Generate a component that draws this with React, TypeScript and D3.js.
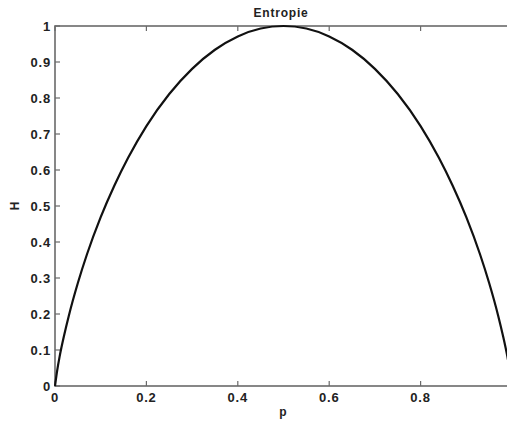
import React from "react";
import * as d3 from "d3";

// Probability values p and the entropy H(p)
const pValues = [0, 0.005, 0.01, 0.02, 0.03, 0.05, 0.07, 0.1, 0.13, 0.16, 0.2, 0.25, 0.3, 0.35, 0.4, 0.45, 0.5, 0.55, 0.6, 0.65, 0.7, 0.75, 0.8, 0.84, 0.87, 0.9, 0.93, 0.95, 0.97, 0.98, 0.99, 0.995];
const hValues = [0.0, 0.045, 0.081, 0.141, 0.194, 0.286, 0.366, 0.469, 0.557, 0.634, 0.722, 0.811, 0.881, 0.934, 0.971, 0.993, 1.0, 0.993, 0.971, 0.934, 0.881, 0.811, 0.722, 0.634, 0.557, 0.469, 0.366, 0.286, 0.194, 0.141, 0.081, 0.045];

const xTicks = [0, 0.2, 0.4, 0.6, 0.8];
const yTicks = [0, 0.1, 0.2, 0.3, 0.4, 0.5, 0.6, 0.7, 0.8, 0.9, 1];

const W = 507;
const H = 422;
const left = 55;
const right = 512;
const top = 26;
const bottom = 386;

export default function App() {
  const x = d3.scaleLinear().domain([0, 1]).range([left, right]);
  const y = d3.scaleLinear().domain([0, 1]).range([bottom, top]);
  const pts: [number, number][] = pValues.map((p, i) => [p, hValues[i]]);
  const line = d3
    .line<[number, number]>()
    .x((d) => x(d[0]))
    .y((d) => y(d[1]))
    .curve(d3.curveMonotoneX);

  const font = "'Liberation Sans', Arial, Helvetica, sans-serif";
  const axisColor = "#6a6a6a";
  const tickLen = 5;

  return (
    <svg
      width={W}
      height={H}
      style={{ position: "fixed", left: 0, top: 0, background: "#fff", display: "block" }}
    >
      <rect x={0} y={0} width={W} height={H} fill="#fff" />
      {/* axes box */}
      <rect
        x={left}
        y={top}
        width={right - left}
        height={bottom - top}
        fill="none"
        stroke={axisColor}
        strokeWidth={1.6}
      />
      {/* x ticks, bottom and top, pointing inward */}
      {xTicks.map((t) => (
        <g key={"x" + t}>
          <line x1={x(t)} x2={x(t)} y1={bottom} y2={bottom - tickLen} stroke={axisColor} strokeWidth={1.2} />
          <line x1={x(t)} x2={x(t)} y1={top} y2={top + tickLen} stroke={axisColor} strokeWidth={1.2} />
          <text
            x={x(t)}
            y={402}
            textAnchor="middle"
            fontFamily={font}
            fontWeight="bold"
            fontSize={13}
            letterSpacing={0.8}
            fill="#222"
          >
            {String(t)}
          </text>
        </g>
      ))}
      {/* y ticks, left and right */}
      {yTicks.map((t) => (
        <g key={"y" + t}>
          <line x1={left} x2={left + tickLen} y1={y(t)} y2={y(t)} stroke={axisColor} strokeWidth={1.2} />
          <line x1={right} x2={right - tickLen} y1={y(t)} y2={y(t)} stroke={axisColor} strokeWidth={1.2} />
          <text
            x={51}
            y={y(t) + 4.5}
            textAnchor="end"
            fontFamily={font}
            fontWeight="bold"
            fontSize={13}
            letterSpacing={0.8}
            fill="#222"
          >
            {String(t)}
          </text>
        </g>
      ))}
      {/* entropy curve */}
      <path d={line(pts) ?? ""} fill="none" stroke="#111" strokeWidth={2.2} strokeLinejoin="round" />
      {/* title and axis labels */}
      <text
        x={281}
        y={17}
        textAnchor="middle"
        fontFamily={font}
        fontWeight="bold"
        fontSize={12}
        letterSpacing={0.8}
        fill="#222"
      >
        Entropie
      </text>
      <text
        x={283}
        y={416}
        textAnchor="middle"
        fontFamily={font}
        fontWeight="bold"
        fontSize={12}
        fill="#222"
      >
        p
      </text>
      <text
        transform={`translate(19,206) rotate(-90)`}
        textAnchor="middle"
        fontFamily={font}
        fontWeight="bold"
        fontSize={12}
        fill="#222"
      >
        H
      </text>
    </svg>
  );
}
